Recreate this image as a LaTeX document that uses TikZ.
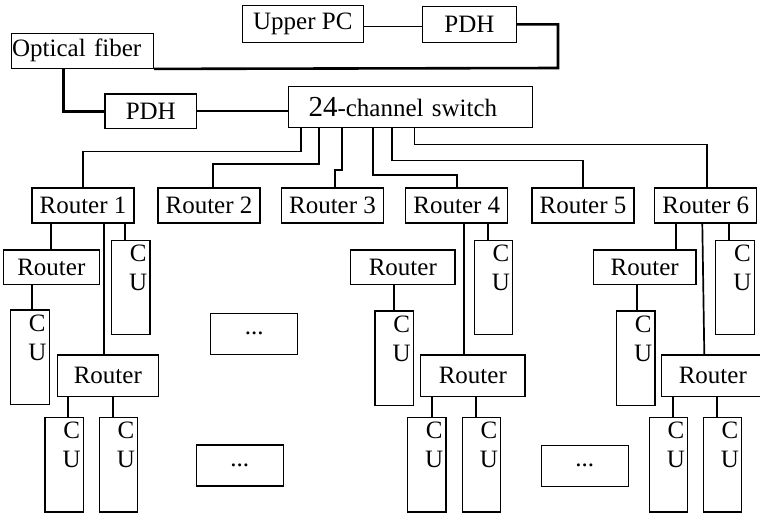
\documentclass[tikz,border=0pt]{standalone}
\usepackage{fontspec}
\setmainfont{Liberation Serif}
\begin{document}
\begin{tikzpicture}[x=0.5pt, y=-0.5pt,
    font=\fontsize{12.5}{14.5}\selectfont,
    every node/.style={draw, line width=0.6pt, inner sep=0pt},
    rt/.style={minimum width=51pt, minimum height=17.5pt},
    cu/.style={minimum width=19.2pt, minimum height=47.3pt,
        label={[draw=none, anchor=north, align=center, xshift=3.7pt, yshift=-2.5pt]north:{C\\U}}},
    dots/.style={minimum width=43.6pt, minimum height=20.5pt},
    link/.style={line width=0.85pt},
    fib/.style={line width=1.3pt}]
    \useasboundingbox (0,0) rectangle (760,515);

    % Top part
    \node[minimum width=60.5pt, minimum height=18.8pt] (pc) at (302.8,23.9) {Upper PC};
    \node[minimum width=46.7pt, minimum height=18.3pt] (pdhA) at (469.4,24.4) {PDH};
    \node[text width=70.2pt, inner xsep=0.5pt, minimum height=17.5pt, align=left] (fiber) at (82.4,50.8) {Optical fiber};
    \node[minimum width=45.8pt, minimum height=17.2pt] (pdhB) at (150.8,111.2) {PDH};
    \node[text width=102pt, inner xsep=10pt, minimum height=20.4pt, align=left] (sw) at (410.5,107.1) {{\fontsize{14.5}{17}\selectfont 24}-channel switch};
    \coordinate (bend) at (558,68);

    \draw[link] ([yshift=-1.3pt]pc.east) -- ([yshift=-1.3pt]pc.east -| pdhA.west);
    \draw[fib] (pdhA.east) -| (bend) -- (fiber.south east);
    \draw[fib] ([xshift=-9.5pt]fiber.south) |- (pdhB.west);
    \draw[link] (pdhB.east) -- (pdhB.east -| sw.west);

    % Routers
    \node[rt] (r1) at (83,205.5) {Router 1};
    \node[rt] (r2) at (209,205.5) {Router 2};
    \node[rt] (r3) at (332.5,205.5) {Router 3};
    \node[rt] (r4) at (456.8,205.5) {Router 4};
    \node[rt] (r5) at (583,205.5) {Router 5};
    \node[rt] (r6) at (705.8,205.5) {Router 6};

    \draw[link] ([xshift=6.7pt]sw.south west) -- ++(0,23.5) -| (r1.north);
    \draw[link] ([xshift=15.5pt]sw.south west) -- ++(0,35.8) -| ([xshift=2pt]r2.north);
    \draw[link] ([xshift=27pt]sw.south west) -- ++(0,41.8) -| ([xshift=1.2pt]r3.north);
    \draw[link] ([xshift=42.5pt]sw.south west) -- ++(0,46.8) -| (r4.north);
    \draw[link] ([xshift=52pt]sw.south west) -- ++(0,32.5) -| (r5.north);
    \draw[link] ([xshift=63.35pt]sw.south west) -- ++(0,16.5) -| ([xshift=0.6pt]r6.north);

    % Router 1 branch
    \node[minimum width=48pt, minimum height=17.2pt] (r1a) at (51.3,267.2) {Router};
    \node[cu] (c1a) at (29.9,357.2) {};
    \node[cu] (c1b) at (130.8,287.5) {};
    \node[minimum width=50.5pt, minimum height=20.8pt] (r1b) at (107.8,375.8) {Router};
    \node[cu] (c1c) at (64.2,464.7) {};
    \node[cu] (c1d) at (118.5,464.7) {};

    \draw[link] (r1a.north) -- (r1a.north |- r1.south);
    \draw[link] ([xshift=1.2pt]c1a.north) -- ([xshift=1.2pt]c1a.north |- r1a.south);
    \draw[link] ([xshift=-1.75pt]r1b.north) -- ([xshift=-1.75pt]r1b.north |- r1.south);
    \draw[link] ([xshift=-2.9pt]c1b.north) -- ([xshift=-2.9pt]c1b.north |- r1.south);
    \draw[link] ([xshift=2pt]c1c.north) -- ([xshift=2pt]c1c.north |- r1b.south);
    \draw[link] ([xshift=-2.6pt]c1d.north) -- ([xshift=-2.6pt]c1d.north |- r1b.south);

    % Router 4 branch
    \node[minimum width=52.2pt, minimum height=17.2pt] (r4a) at (402.8,267.2) {Router};
    \node[cu] (c4a) at (394.2,358.2) {};
    \node[cu] (c4b) at (493.5,287.5) {};
    \node[minimum width=52.2pt, minimum height=20.8pt] (r4b) at (472.8,375.8) {Router};
    \node[cu] (c4c) at (426.8,464.7) {};
    \node[cu] (c4d) at (481.5,464.7) {};

    \draw[link] (c4a.north) -- (c4a.north |- r4a.south);
    \draw[link] ([xshift=-4.4pt]r4b.north) -- ([xshift=-4.4pt]r4b.north |- r4.south);
    \draw[link] ([xshift=-2.9pt]c4b.north) -- ([xshift=-2.9pt]c4b.north |- r4.south);
    \draw[link] ([xshift=2.45pt]c4c.north) -- ([xshift=2.45pt]c4c.north |- r4b.south);
    \draw[link] ([xshift=-2.9pt]c4d.north) -- ([xshift=-2.9pt]c4d.north |- r4b.south);

    % Router 6 branch
    \node[minimum width=51.3pt, minimum height=17.2pt] (r6a) at (644.7,267.2) {Router};
    \node[cu] (c6a) at (635.8,358.2) {};
    \node[cu] (c6b) at (735,287.5) {};
    \node[minimum width=51.3pt, minimum height=20.8pt] (r6b) at (712.8,375.8) {Router};
    \node[cu] (c6c) at (668.5,464.7) {};
    \node[cu] (c6d) at (722.5,464.7) {};

    \draw[link] ([xshift=15.5pt]r6a.north) -- ([xshift=15.5pt]r6a.north |- r6.south);
    \draw[link] ([xshift=0.5pt]c6a.north) -- ([xshift=0.5pt]c6a.north |- r6a.south);
    \draw[link] ([xshift=-1.75pt]r6.south) -- ([xshift=-4.25pt]r6b.north);
    \draw[link] ([xshift=-3pt]c6b.north) -- ([xshift=-3pt]c6b.north |- r6.south);
    \draw[link] ([xshift=2.1pt]c6c.north) -- ([xshift=2.1pt]c6c.north |- r6b.south);
    \draw[link] ([xshift=-2.6pt]c6d.north) -- ([xshift=-2.6pt]c6d.north |- r6b.south);

    % Dots
    \node[dots] (d1) at (254.2,333.8) {...};
    \node[dots] (d2) at (239.7,465.5) {...};
    \node[dots] (d3) at (584.7,465.8) {...};

    \end{tikzpicture}
\end{document}
